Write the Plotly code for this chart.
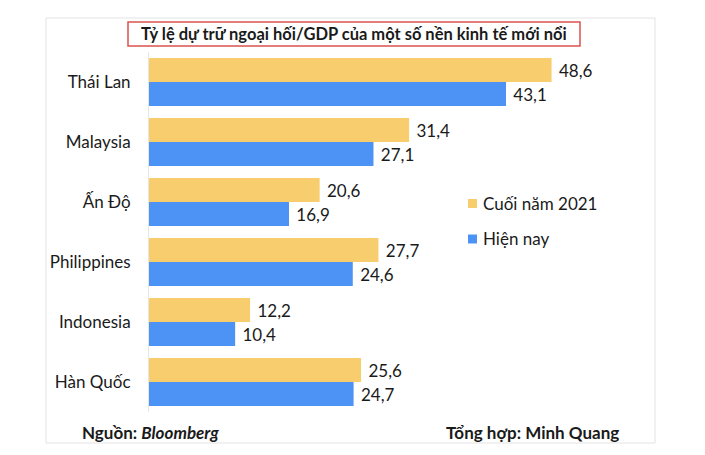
import plotly.graph_objects as go

categories = ["Thái Lan", "Malaysia", "Ấn Độ", "Philippines", "Indonesia", "Hàn Quốc"]
end_2021 = [48.6, 31.4, 20.6, 27.7, 12.2, 25.6]
current = [43.1, 27.1, 16.9, 24.6, 10.4, 24.7]
series_names = ["Cuối năm 2021", "Hiện nay"]

def fmt(v):
    return " " + f"{v:.1f}".replace(".", ",")

YELLOW = "#F7CD6E"
BLUE = "#4D93F5"
FONT = "Lato, 'Open Sans', sans-serif"
TXT = "#1a1a1a"
colors = [YELLOW, BLUE]

fig = go.Figure()
for name, vals, col in zip(series_names, [end_2021, current], colors):
    fig.add_trace(go.Bar(
        y=categories, x=vals, orientation="h", name=name,
        marker=dict(color=col, line=dict(width=0)),
        text=[fmt(v) for v in vals], textposition="outside",
        textfont=dict(family=FONT, size=17, color=TXT),
        cliponaxis=False, hoverinfo="skip", showlegend=False,
    ))

L, R, T, B = 149, 59, 52, 43
W, H = 705, 455
pw, ph = W - L - R, H - T - B

def px(x):
    return (x - L) / pw

def py(y):
    return (H - B - y) / ph

shapes = [
    dict(type="rect", xref="paper", yref="paper",
         x0=px(46), x1=px(655), y0=py(443), y1=py(18),
         line=dict(color="#e3e3e3", width=1), layer="below"),
    dict(type="rect", xref="paper", yref="paper",
         x0=px(128), x1=px(580), y0=py(46), y1=py(22),
         line=dict(color="#d9534f", width=1.5)),
]
annotations = [
    dict(text="<b>Tỷ lệ dự trữ ngoại hối/GDP của một số nền kinh tế mới nổi</b>",
         xref="paper", yref="paper", x=px(354), y=py(34),
         xanchor="center", yanchor="middle", showarrow=False,
         font=dict(family=FONT, size=16.5, color=TXT)),
    dict(text="<b>Nguồn: <i>Bloomberg</i></b>",
         xref="paper", yref="paper", x=px(80), y=py(432),
         xanchor="left", yanchor="middle", showarrow=False,
         font=dict(family=FONT, size=17, color=TXT)),
    dict(text="<b>Tổng hợp: Minh Quang</b>",
         xref="paper", yref="paper", x=px(621), y=py(432),
         xanchor="right", yanchor="middle", showarrow=False,
         font=dict(family=FONT, size=17, color=TXT)),
]
# legend (drawn manually for compact symbol/text spacing)
legend_y = [203.5, 239]
for name, col, yy in zip(series_names, colors, legend_y):
    shapes.append(dict(type="rect", xref="paper", yref="paper",
                       x0=px(468), x1=px(477), y0=py(yy + 4.5), y1=py(yy - 4.5),
                       fillcolor=col, line=dict(width=0)))
    annotations.append(dict(text=name, xref="paper", yref="paper",
                            x=px(481), y=py(yy), xanchor="left", yanchor="middle",
                            showarrow=False,
                            font=dict(family=FONT, size=17, color=TXT)))

fig.update_layout(
    width=W, height=H,
    margin=dict(l=L, r=R, t=T, b=B),
    paper_bgcolor="white", plot_bgcolor="white",
    barmode="group", bargap=0.2, bargroupgap=0,
    font=dict(family=FONT, size=17, color=TXT),
    xaxis=dict(range=[0, 60], visible=False, fixedrange=True),
    yaxis=dict(autorange="reversed", showgrid=False, zeroline=False,
               showline=True, linecolor="#e6e6e6", linewidth=1,
               ticks="", ticklabelstandoff=14, automargin=False, fixedrange=True,
               tickfont=dict(family=FONT, size=17, color=TXT)),
    showlegend=False,
    hovermode=False,
    shapes=shapes,
    annotations=annotations,
)

fig.write_html("out.html", config={"displayModeBar": False},
               post_script="document.body.style.margin='0px';")
